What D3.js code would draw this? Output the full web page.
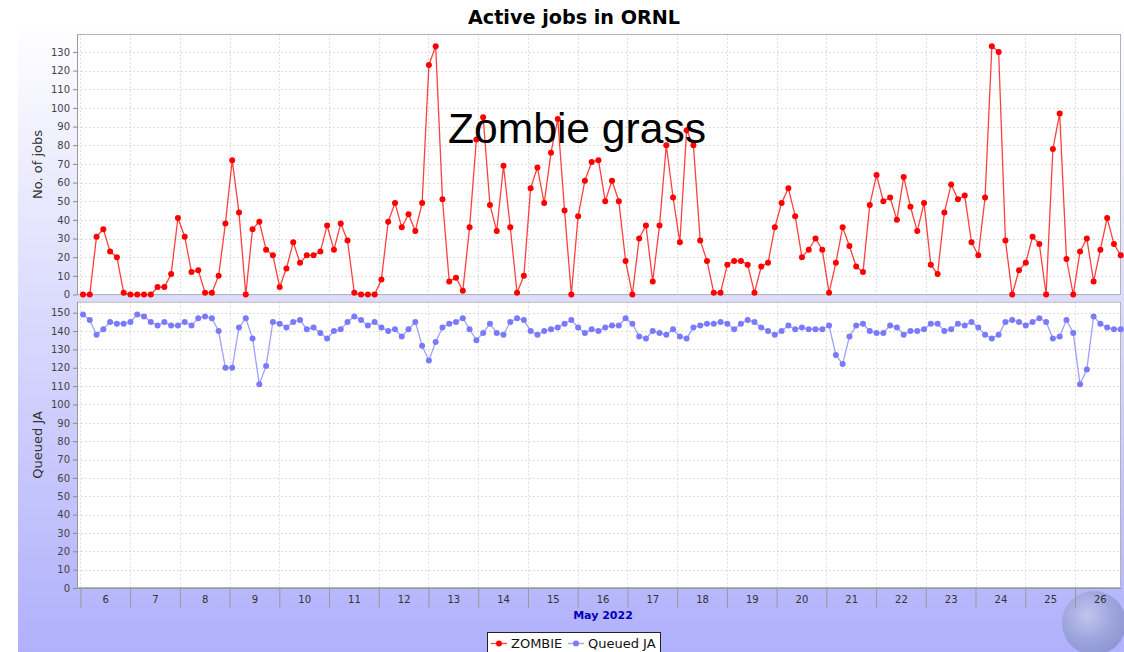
<!DOCTYPE html>
<html><head><meta charset="utf-8">
<script src="https://cdn.jsdelivr.net/npm/d3@7"></script>
<style>body{margin:0;background:#fff}svg{display:block}</style>
</head><body><svg id="c" width="1124" height="652"></svg>
<script>
// ---------- DATA ----------
const chartTitle = "Active jobs in ORNL";
const overlayText = "Zombie grass";
const seriesNames = ["ZOMBIE", "Queued JA"];
const yLabels = ["No. of jobs", "Queued JA"];
const monthLabel = "May 2022";
const zombie = [0,0,31,35,23,20,1,0,0,0,0,4,4,11,41,31,12,13,1,1,
  10,38,72,44,0,35,39,24,21,4,14,28,17,21,21,23,37,24,38,29,
  1,0,0,0,8,39,49,36,43,34,49,123,133,51,7,9,2,36,83,95,
  48,34,69,36,1,10,57,68,49,76,94,45,0,42,61,71,72,50,61,50,
  18,0,30,37,7,37,80,52,28,88,80,29,18,1,1,16,18,18,16,1,
  15,17,36,49,57,42,20,24,30,24,1,17,36,26,15,12,48,64,50,52,
  40,63,47,34,49,16,11,44,59,51,53,28,21,52,133,130,29,0,13,17,
  31,27,0,78,97,19,0,23,30,7,24,41,27,21];
const queued = [149,146,138,141,145,144,144,145,149,148,145,143,145,143,143,145,143,147,148,147,
  140,120,120,142,147,136,111,121,145,144,142,145,146,141,142,139,136,140,141,145,
  148,146,143,145,142,140,141,137,141,145,132,124,134,142,144,145,147,141,135,139,
  144,139,138,145,147,146,140,138,140,141,142,144,146,142,139,141,140,142,143,143,
  147,144,137,136,140,139,138,141,137,136,142,143,144,144,145,144,141,144,146,145,
  142,140,138,140,143,141,142,141,141,141,143,127,122,137,143,144,140,139,139,143,
  142,138,140,140,141,144,144,140,141,144,143,145,142,138,136,138,145,146,145,143,
  145,147,145,136,137,146,139,111,119,148,144,142,141,141];
const firstSample = "2022-05-06T01:15";
const sampleStepMinutes = 196.4;
const xDomainText = ["2022-05-05T22:22", "2022-05-26T22:12"];
const dayStartText = ["2022-05-06", "2022-05-27"];
const zombieTicks = [0,10,20,30,40,50,60,70,80,90,100,110,120,130];
const queuedTicks = [0,10,20,30,40,50,60,70,80,90,100,110,120,130,140,150];
const zombieMax = 139.6, queuedMax = 156;

// ---------- SETUP ----------
const svg = d3.select("#c");
const font = "DejaVu Sans, sans-serif";
const parseT = d3.timeParse("%Y-%m-%dT%H:%M");
const parseD = d3.timeParse("%Y-%m-%d");
const t0 = parseT(firstSample);
const times = zombie.map((_, i) => new Date(t0.getTime() + i * sampleStepMinutes * 60000));

const L = 77, R = 1121;
const top1 = 34, bot1 = 295, top2 = 301.7, bot2 = 588;

const x = d3.scaleTime().domain(xDomainText.map(parseT)).range([L, R]);
const y1 = d3.scaleLinear().domain([0, zombieMax]).range([294.5, top1]);
const y2 = d3.scaleLinear().domain([0, queuedMax]).range([bot2, top2]);
const days = d3.timeDay.range(parseD(dayStartText[0]), parseD(dayStartText[1]));

// background gradient
const defs = svg.append("defs");
const g = defs.append("linearGradient").attr("id", "bg").attr("x1", 0).attr("y1", 0).attr("x2", 0).attr("y2", 1);
g.append("stop").attr("offset", "0%").attr("stop-color", "#ffffff");
g.append("stop").attr("offset", "100%").attr("stop-color", "#b0b0fc");
svg.append("rect").attr("x", 18).attr("y", 21).attr("width", 1124 - 18).attr("height", 652 - 21).attr("fill", "url(#bg)");

const rg = defs.append("radialGradient").attr("id", "globe").attr("cx", "40%").attr("cy", "38%").attr("r", "70%");
rg.append("stop").attr("offset", "0%").attr("stop-color", "#c8d0e8");
rg.append("stop").attr("offset", "55%").attr("stop-color", "#8e9cc8");
rg.append("stop").attr("offset", "100%").attr("stop-color", "#7480b4");

// title
svg.append("text").attr("x", 574).attr("y", 24).attr("text-anchor", "middle")
  .attr("font-family", font).attr("font-weight", "bold").attr("font-size", 19.2).attr("fill", "#000").text(chartTitle);

function plot(yS, top, bot, ticks, data, color, lineColor, label) {
  const gp = svg.append("g");
  gp.append("rect").attr("x", L).attr("y", top).attr("width", R - L).attr("height", bot - top).attr("fill", "#fff");
  // grid
  gp.selectAll(".hg").data(ticks).join("line")
    .attr("x1", L).attr("x2", R).attr("y1", d => Math.round(yS(d)) + 0.5).attr("y2", d => Math.round(yS(d)) + 0.5)
    .attr("stroke", "#d4d4d4").attr("stroke-width", 0.8).attr("stroke-dasharray", "2,2");
  gp.selectAll(".vg").data(days).join("line")
    .attr("y1", top).attr("y2", bot).attr("x1", d => Math.round(x(d)) + 0.5).attr("x2", d => Math.round(x(d)) + 0.5)
    .attr("stroke", "#d4d4d4").attr("stroke-width", 0.8).attr("stroke-dasharray", "2,2");
  gp.append("rect").attr("x", L + 0.5).attr("y", top + 0.5).attr("width", R - L - 1).attr("height", bot - top - 1)
    .attr("fill", "none").attr("stroke", "#b4b4b4");
  // axis
  const ax = gp.append("g").attr("transform", `translate(${L},0)`)
    .call(d3.axisLeft(yS).tickValues(ticks).tickSize(4).tickSizeOuter(0).tickPadding(3));
  ax.select(".domain").attr("stroke", "#999");
  ax.selectAll(".tick line").attr("stroke", "#888");
  ax.selectAll("text").attr("font-family", font).attr("font-size", 10).attr("fill", "#444");
  gp.append("text").attr("transform", `translate(42,${(top + bot) / 2}) rotate(-90)`)
    .attr("text-anchor", "middle").attr("font-family", font).attr("font-size", 13).attr("fill", "#333").text(label);
  // series
  const line = d3.line().x((d, i) => x(times[i])).y(d => yS(d));
  gp.append("path").datum(data).attr("d", line).attr("fill", "none").attr("stroke", lineColor).attr("stroke-width", 1.3);
  gp.selectAll(".pt").data(data).join("circle")
    .attr("cx", (d, i) => x(times[i])).attr("cy", d => yS(d)).attr("r", 3).attr("fill", color);
}
plot(y1, top1, bot1, zombieTicks, zombie, "#ff0000", "rgba(255,0,0,0.75)", yLabels[0]);
plot(y2, top2, bot2, queuedTicks, queued, "#7a7aff", "rgba(120,120,255,0.7)", yLabels[1]);

// globe watermark
svg.append("circle").attr("cx", 1094).attr("cy", 623).attr("r", 32).attr("fill", "url(#globe)").attr("opacity", 0.6);

// x axis: separators
const xa = svg.append("g").attr("transform", `translate(0,${bot2})`)
  .call(d3.axisBottom(x).tickValues(days).tickSize(20).tickSizeOuter(0).tickFormat(""));
xa.select(".domain").attr("stroke", "#999");
xa.selectAll(".tick line").attr("stroke", "#999");
// day labels
const noons = days.map(d => d3.timeHour.offset(d, 12)).filter(d => d <= x.domain()[1]);
const xl = svg.append("g").attr("transform", `translate(0,${bot2})`)
  .call(d3.axisBottom(x).tickValues(noons).tickSize(0).tickPadding(8).tickFormat(d3.timeFormat("%-d")));
xl.select(".domain").remove();
xl.selectAll("text").attr("font-family", font).attr("font-size", 10).attr("fill", "#333");
svg.append("text").attr("x", 603).attr("y", 619).attr("text-anchor", "middle")
  .attr("font-family", font).attr("font-weight", "bold").attr("font-size", 11).attr("fill", "#0000b8").text(monthLabel);

// overlay text
svg.append("text").attr("x", 448).attr("y", 143).attr("font-family", "Liberation Sans, Arial, sans-serif")
  .attr("font-size", 42.6).attr("fill", "#000").text(overlayText);

// legend
const lg = svg.append("g");
lg.append("rect").attr("x", 487.5).attr("y", 632.5).attr("width", 173).attr("height", 30).attr("fill", "#fff").attr("stroke", "#222");
const items = [
  {name: seriesNames[0], c: "#ff0000", lc: "rgba(255,0,0,0.75)", x0: 491},
  {name: seriesNames[1], c: "#7a7aff", lc: "rgba(120,120,255,0.7)", x0: 568}
];
items.forEach(it => {
  lg.append("line").attr("x1", it.x0).attr("x2", it.x0 + 16).attr("y1", 643.5).attr("y2", 643.5).attr("stroke", it.lc).attr("stroke-width", 1.3);
  lg.append("circle").attr("cx", it.x0 + 8).attr("cy", 643.5).attr("r", 3).attr("fill", it.c);
  lg.append("text").attr("x", it.x0 + 20).attr("y", 648).attr("font-family", font).attr("font-size", 13).attr("fill", "#111").text(it.name);
});
</script></body></html>
